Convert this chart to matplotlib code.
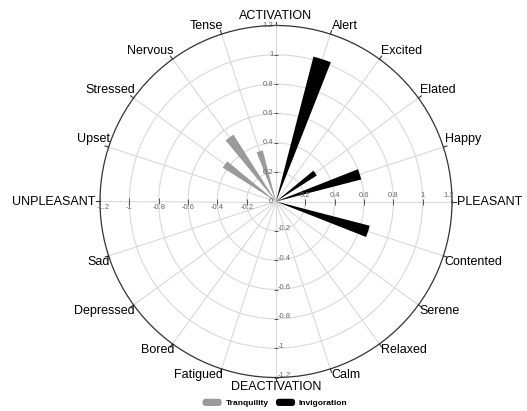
import numpy as np
import matplotlib
matplotlib.use('Agg')
import matplotlib.pyplot as plt
from matplotlib.patches import Patch, FancyBboxPatch
from matplotlib.legend_handler import HandlerPatch

plt.rcParams['font.family'] = ['Liberation Sans', 'DejaVu Sans']

# labels going counter-clockwise from 0 deg, one every 18 deg
moods = ['PLEASANT', 'Happy', 'Elated', 'Excited', 'Alert',
         'ACTIVATION', 'Tense', 'Nervous', 'Stressed', 'Upset',
         'UNPLEASANT', 'Sad', 'Depressed', 'Bored', 'Fatigued',
         'DEACTIVATION', 'Calm', 'Relaxed', 'Serene', 'Contented']

tranq_moods = ['Tense', 'Nervous', 'Stressed']
tranq_values = [0.36, 0.54, 0.43]
invig_moods = ['Alert', 'Elated', 'Happy', 'Contented']
invig_values = [1.02, 0.33, 0.60, 0.66]

axis_ticks = [-1.2, -1.0, -0.8, -0.6, -0.4, -0.2, 0.2, 0.4, 0.6, 0.8, 1.0, 1.2]

step = 360 / len(moods)
ang = {m: np.deg2rad(i * step) for i, m in enumerate(moods)}

fig = plt.figure(figsize=(5.27, 4.11), dpi=100)
ax = fig.add_axes([100/527, 33.5/411, 352/527, 352/411], projection='polar')
ax.set_ylim(0, 1.2)
ax.set_yticks([0.2, 0.4, 0.6, 0.8, 1.0])
ax.set_yticklabels([])
ax.set_xticks([ang[m] for m in moods])
ax.set_xticklabels([])
ax.tick_params(length=0)
ax.grid(color='#d9d9d9', lw=0.8)
ax.spines['polar'].set_color('#333333')
ax.spines['polar'].set_linewidth(0.9)

# wedges
w = np.deg2rad(7)
ax.bar([ang[m] for m in tranq_moods], tranq_values, width=w, bottom=0,
       color='#9a9a9a', edgecolor='none', zorder=3)
ax.bar([ang[m] for m in invig_moods], invig_values, width=w, bottom=0,
       color='black', edgecolor='none', zorder=3)

# ticks + labels along the horizontal / vertical axes
tk = dict(fontsize=5.5, color='#666666', textcoords='offset points', annotation_clip=False)
for v in axis_ticks:
    edge = abs(v) > 1.1
    th = 0 if v > 0 else np.pi
    ax.plot(th, abs(v), marker='|', ms=5, mew=0.7, color='#555555', clip_on=False, zorder=4)
    if v > 0:
        ax.annotate(f'{v:g}', (th, abs(v)), xytext=(-2 if edge else 0, 1.5),
                    ha='center', va='bottom', **tk)
    else:
        ax.annotate(f'{v:g}', (th, abs(v)), xytext=(2.5 if edge else 0, -1.5),
                    ha='center', va='top', **tk)
    th = np.pi/2 if v > 0 else 3*np.pi/2
    ax.plot(th, abs(v), marker='_', ms=3, mew=0.7, color='#555555', clip_on=False, zorder=4)
    if v > 0:
        ax.annotate(f'{v:g}', (th, abs(v)), xytext=(-2, 0), ha='right', va='center', **tk)
    else:
        ax.annotate(f'{v:g}', (th, abs(v)), xytext=(1.5, 1.5), ha='left', va='center', **tk)
ax.annotate('0', (0, 0), xytext=(-2, 0), ha='right', va='center', **tk)

# mood labels with small outward ticks on the outer circle
for m in moods:
    th = ang[m]
    ax.plot([th, th], [1.2, 1.225], color='#333333', lw=0.8, clip_on=False)
    c, s = np.cos(th), np.sin(th)
    if c > 0.01:
        ha, dx = 'left', 1
    elif c < -0.01:
        ha, dx = 'right', 1
    else:
        ha, dx = 'center', 0
    if s > 0.01:
        va, dy = 'bottom', 1.5
    elif s < -0.01:
        va, dy = 'top', 0
    else:
        va, dy = 'center', 0
    if m == 'ACTIVATION':
        dy = 2.5
    if m == 'DEACTIVATION':
        dy = -2.5
    if m in ('PLEASANT', 'UNPLEASANT'):
        dx = 3.5 if c > 0 else -3.5
    ax.annotate(m, (th, 1.2), xytext=(dx, dy), textcoords='offset points',
                ha=ha, va=va, fontsize=9, annotation_clip=False)


class RoundHandle(HandlerPatch):
    def create_artists(self, legend, orig_handle, xdescent, ydescent,
                       width, height, fontsize, trans):
        p = FancyBboxPatch((-xdescent, -ydescent), width, height,
                           boxstyle='round,pad=0,rounding_size=%g' % (height * 0.45),
                           facecolor=orig_handle.get_facecolor(),
                           edgecolor='none', transform=trans)
        return [p]


handles = [Patch(facecolor='#9a9a9a', label='Tranquility'),
           Patch(facecolor='black', label='Invigoration')]
fig.legend(handles=handles, loc='center', bbox_to_anchor=(275/527, 1 - 403/411),
           ncol=2, frameon=False, prop=dict(size=6, weight='bold'),
           handlelength=2.3, handleheight=0.95, handletextpad=0.45,
           columnspacing=0.9, borderpad=0,
           handler_map={Patch: RoundHandle()})

fig.savefig('out.png', dpi=100)
